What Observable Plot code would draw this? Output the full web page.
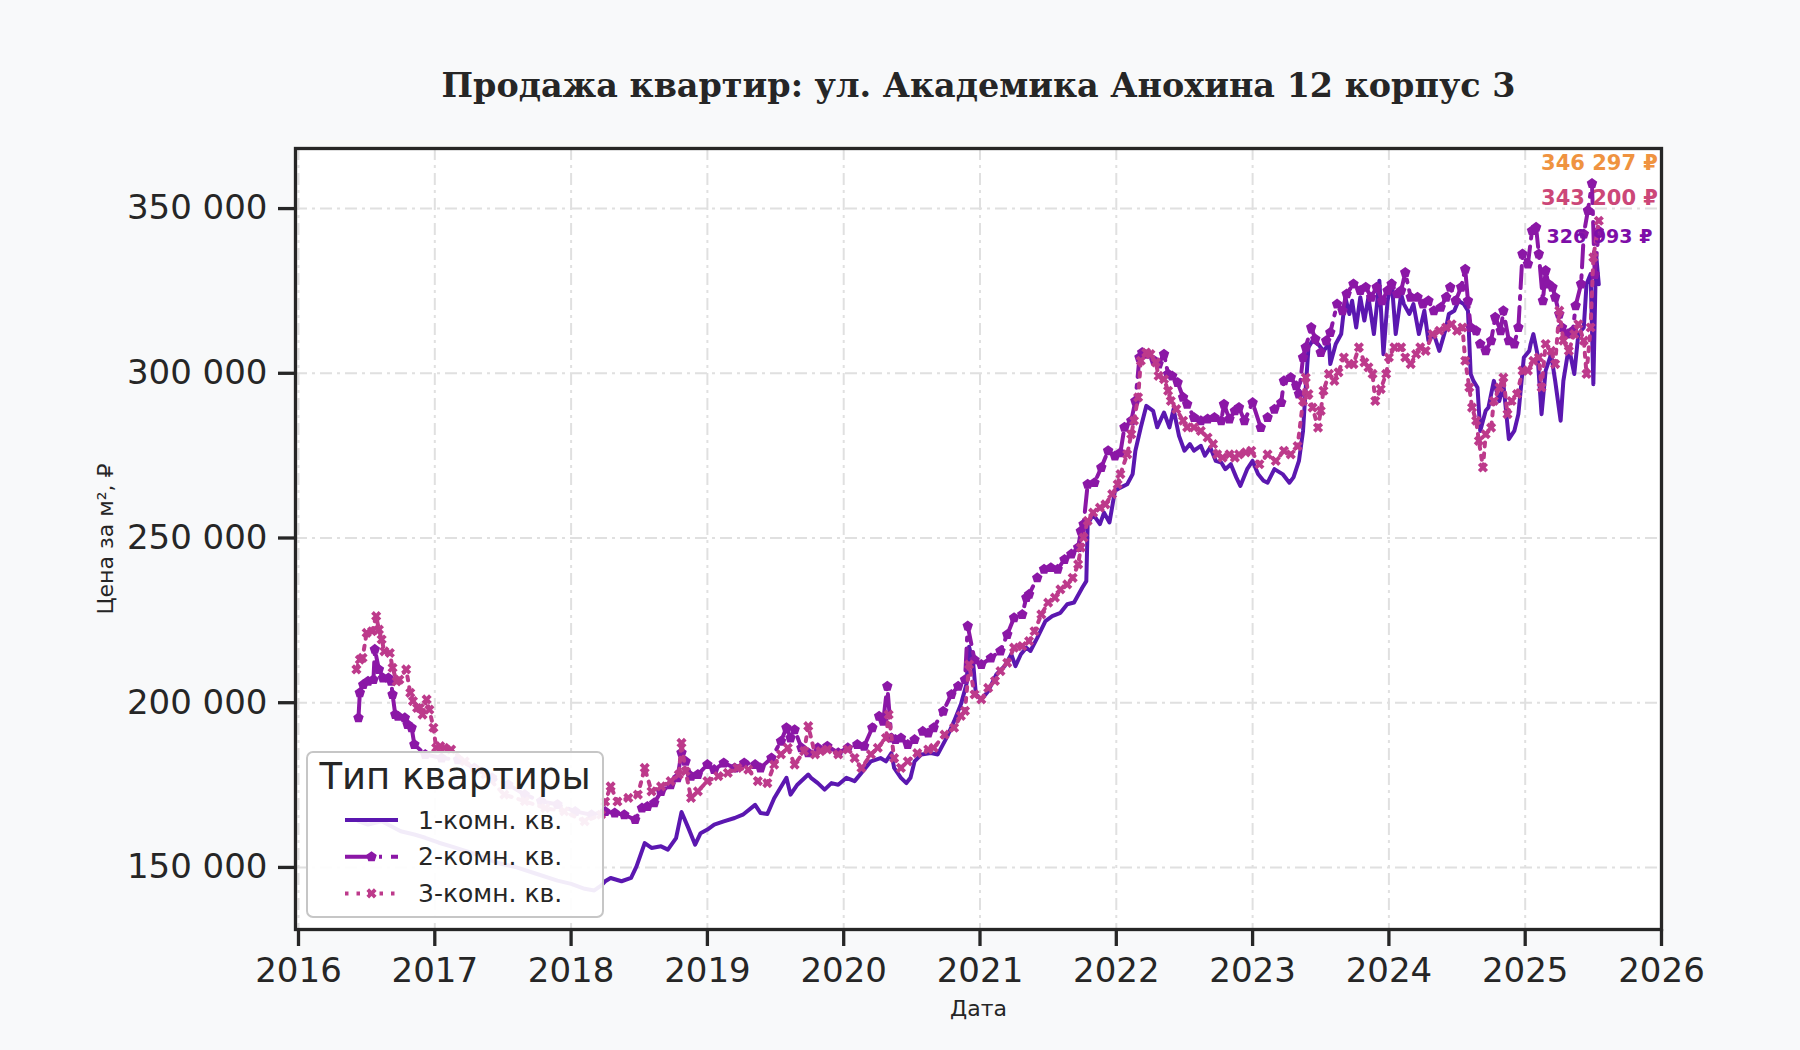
<!DOCTYPE html>
<html>
<head>
<meta charset="utf-8">
<script src="https://cdn.jsdelivr.net/npm/d3@7"></script>
<script src="https://cdn.jsdelivr.net/npm/@observablehq/plot@0.6"></script>
<style>
html, body { margin: 0; padding: 0; background: #f8f9fa; }
#chart { width: 1800px; height: 1050px; }
</style>
</head>
<body>
<div id="chart"></div>
<script>
// ---------- DATA (dates as decimal years, prices in thousand ₽ per m²) ----------
const title = "Продажа квартир: ул. Академика Анохина 12 корпус 3";
const seriesNames = ["1-комн. кв.", "2-комн. кв.", "3-комн. кв."];
const xTicks = [2016, 2017, 2018, 2019, 2020, 2021, 2022, 2023, 2024, 2025, 2026];
const yTicks = [150000, 200000, 250000, 300000, 350000];

const t1 = [2016.44,2016.51,2016.61,2016.68,2016.75,2016.85,2016.93,2017.03,2017.15,2017.3,2017.45,2017.6,2017.75,2017.9,2018.0,2018.1,2018.17,2018.22,
2018.25,2018.29,2018.37,2018.44,2018.48,2018.54,2018.59,2018.66,2018.71,2018.77,2018.81,2018.86,2018.91,2018.95,2019.0,2019.05,2019.12,2019.2,2019.26,2019.35,2019.39,2019.44,2019.49,2019.58,2019.61,2019.66,2019.74,2019.76,2019.81,2019.86,2019.91,2019.96,2020.02,2020.08,2020.13,2020.2,2020.27,2020.31,2020.35,2020.37,2020.42,
2020.46,2020.49,2020.52,2020.57,2020.64,2020.69,2020.76,2020.81,2020.86,2020.9,2020.92,2020.95,2020.97,2021.01,2021.06,2021.12,2021.18,2021.23,2021.26,2021.3,2021.34,2021.37,2021.42,2021.48,2021.53,2021.59,2021.64,2021.69,2021.75,2021.78,2021.79,2021.83,2021.88,2021.91,2021.95,2021.99,2022.03,2022.08,2022.12,2022.14,2022.18,2022.22,2022.27,2022.3,2022.35,2022.39,2022.42,2022.46,2022.5,2022.54,2022.57,2022.62,2022.65,2022.69,2022.73,2022.77,2022.8,2022.84,2022.88,2022.91,
2022.96,2023.0,2023.04,2023.08,2023.11,2023.16,2023.22,2023.27,2023.3,2023.34,2023.37,2023.39,2023.41,2023.44,2023.48,2023.52,2023.56,2023.57,2023.61,2023.65,2023.68,2023.71,2023.73,2023.76,2023.79,2023.82,2023.85,2023.89,2023.93,2023.96,2023.99,2024.02,2024.05,2024.09,2024.11,2024.15,2024.18,2024.22,2024.26,2024.29,2024.33,2024.37,2024.42,2024.44,2024.48,2024.51,2024.55,2024.58,2024.6,2024.62,2024.65,2024.67,2024.71,2024.73,2024.77,2024.81,2024.84,2024.88,2024.92,2024.95,2024.99,2025.03,2025.04,2025.06,2025.09,2025.12,2025.15,2025.19,2025.22,2025.26,2025.28,2025.32,2025.36,2025.39,2025.43,2025.45,2025.48,2025.5,2025.52,2025.54];
const k1 = [164,163,164,162.5,161,160,159,157.5,156,154,151.5,150,148,146,145,143.5,143,144.5,
145.8,146.8,145.8,146.8,150.3,157.4,155.9,156.4,155.4,158.9,166.8,162,156.9,160.4,161.5,163,164,165,166,169,166.5,166.2,171,177.2,172.1,175.1,178.2,177.2,175.6,173.6,175.6,175.1,177.2,176.2,178.7,182.2,183.2,182.2,184.7,180.2,177.2,
175.6,177.2,182.2,184.3,184.7,184.3,189.8,194.4,199.5,205.5,217,212,202.5,201,203.5,208.6,211.1,214.7,211.1,214.7,216.7,215.7,219.7,224.8,226.3,227.3,229.9,230.4,234.9,236.9,254.2,257.2,254.2,257.7,254.7,264.3,265.3,266.3,269.4,276.5,283.6,290.1,288.6,283.6,288.1,283.6,289.1,281,276.5,278.5,276.5,278,275,277.5,273.4,272.9,270.9,272.4,268.4,265.8,
270.9,273.4,269.4,267.4,266.8,270.9,269.4,266.8,268.4,273.4,282.5,295.7,307.9,309.9,308.9,306.8,308.9,302.8,308.9,311.9,323.1,318,322,313.9,323.1,316,323.1,311.9,328.1,305.8,322,328.1,311.9,324.1,321,318,321,311.9,319,309.9,311.9,306.8,313.9,318,319,322,321,319,299.8,297.7,295.7,282.5,288.6,289.6,297.7,291.6,296.7,280,282.5,287.6,304.8,306.8,308.9,311.9,305.8,287.6,300.8,305.8,297.7,285.6,297.7,307.9,299.8,311.9,313.9,327.1,330.1,296.7,336.2,326.993];

const t2 = [2016.44,2016.45,2016.475,2016.51,2016.55,2016.56,2016.59,2016.62,2016.66,2016.68,2016.69,2016.71,2016.73,2016.78,2016.8,2016.83,2016.85,2016.93,2017.05,2017.17,2017.29,2017.42,2017.54,2017.66,2017.78,2017.9,2018.03,2018.15,
2018.25,2018.32,2018.39,2018.47,2018.52,2018.56,2018.61,2018.66,2018.73,2018.78,2018.81,2018.84,2018.88,2018.93,2019.0,2019.05,2019.12,2019.2,2019.27,2019.35,2019.39,2019.47,2019.54,2019.58,2019.61,2019.64,2019.69,2019.74,2019.81,2019.88,2019.96,2020.03,2020.1,2020.15,2020.21,2020.26,2020.29,2020.32,2020.35,2020.38,2020.42,2020.47,2020.52,2020.58,2020.62,2020.66,2020.73,2020.79,2020.84,2020.89,2020.91,2020.96,2021.01,
2021.08,2021.15,2021.2,2021.25,2021.31,2021.34,2021.36,2021.42,2021.47,2021.52,2021.57,2021.62,2021.67,2021.72,2021.74,2021.76,2021.79,2021.84,2021.89,2021.94,2021.99,2022.03,2022.06,2022.11,2022.14,2022.17,2022.19,2022.23,2022.28,2022.31,2022.35,2022.38,2022.41,2022.45,2022.49,2022.52,2022.57,2022.62,2022.67,2022.72,2022.77,2022.79,2022.83,2022.87,2022.9,2022.94,
2023.0,2023.06,2023.11,2023.16,2023.21,2023.23,2023.28,2023.32,2023.34,2023.37,2023.39,2023.43,2023.46,2023.5,2023.54,2023.57,2023.62,2023.66,2023.69,2023.74,2023.79,2023.83,2023.87,2023.91,2023.95,2023.99,2024.02,2024.06,2024.09,2024.12,2024.16,2024.21,2024.25,2024.29,2024.33,2024.38,2024.42,2024.45,2024.49,2024.53,2024.56,2024.58,2024.6,2024.64,2024.67,2024.71,2024.75,2024.78,2024.82,2024.84,2024.88,2024.92,2024.95,2024.98,2025.02,2025.05,2025.08,2025.1,2025.13,2025.15,2025.17,2025.2,2025.22,2025.25,2025.27,2025.31,2025.35,2025.37,2025.41,2025.43,2025.46,2025.49,2025.51,2025.54];
const k2 = [195.4,203,205.5,206.5,207,216.2,210.1,207.5,207.5,206.5,202.5,196.4,195.9,195.4,193.4,192.4,187.3,184.3,183.2,182.7,180.2,177.2,175.1,172.1,170.1,169.1,167,166,
167,166.5,166,164.5,168,168.5,169.6,173,175.1,177.2,184.8,182.2,177.7,178.2,181.2,179.7,181.7,180.2,181.7,181.2,180.2,183.2,188.3,192.4,189.3,191.8,186.3,184.8,186.3,186.8,184.8,186.3,187.3,186.8,192.4,195.9,194.4,205,189.3,188.8,189.3,187.3,188.8,191.3,190.8,192.4,197.4,202.5,205,207,223.3,213,211.6,
213.6,215.7,220.7,225.8,226.8,231.9,232.9,237.9,240.5,241,240.5,243.5,245.1,247.1,252.1,254.2,266.3,266.8,271.4,276.5,274.9,275.9,283.6,285.6,291.6,304.8,306.3,305.8,303.8,302.8,305.8,299.8,299.2,297.2,292.7,290.6,286.6,285.6,286.1,286.6,285.6,290.6,286.1,288.6,289.6,285.6,
291.1,283.5,286.6,289.1,291.1,297.7,298.7,296.2,293.7,304.8,307.9,313.9,310.4,306.3,309.9,312.4,321,319,324.1,327.1,325.1,326.1,323.1,326.1,322,325.1,327.1,324.1,325.1,330.6,323.1,323.1,321,322,319,320,323.1,326.1,322,326.1,331.6,322,313.9,312.9,308.9,306.8,309.9,317,312.9,319,309.9,308.9,313.9,336.2,333.2,343.3,344.3,336.2,322,331.2,327.1,326.1,323.1,318,313.9,311.9,312.9,320.5,327.1,342.3,349.4,357.6,330,343.2];

const t3 = [2016.425,2016.45,2016.47,2016.5,2016.54,2016.57,2016.59,2016.61,2016.63,2016.67,2016.69,2016.72,2016.74,2016.79,2016.82,2016.84,2016.87,2016.89,2016.91,2016.94,2016.96,2016.99,2017.01,2017.04,2017.07,2017.12,2017.22,2017.37,2017.51,2017.66,2017.81,2017.95,2018.1,2018.22,
2018.25,2018.29,2018.34,2018.42,2018.49,2018.54,2018.59,2018.66,2018.73,2018.79,2018.81,2018.84,2018.88,2018.93,2019.0,2019.08,2019.15,2019.22,2019.3,2019.37,2019.44,2019.49,2019.54,2019.59,2019.64,2019.71,2019.74,2019.79,2019.83,2019.88,2019.96,2020.03,2020.08,2020.13,2020.2,2020.25,2020.31,2020.33,2020.37,2020.42,2020.47,2020.54,2020.62,2020.66,2020.74,2020.81,2020.86,2020.89,2020.92,2020.96,
2021.01,2021.06,2021.11,2021.15,2021.2,2021.25,2021.31,2021.36,2021.4,2021.45,2021.5,2021.55,2021.59,2021.64,2021.68,2021.72,2021.74,2021.76,2021.79,2021.83,2021.88,2021.92,2021.97,2022.01,2022.03,2022.08,2022.11,2022.13,2022.16,2022.18,2022.22,2022.25,2022.29,2022.31,2022.35,2022.38,2022.4,2022.44,2022.49,2022.52,2022.57,2022.62,2022.67,2022.71,2022.74,2022.78,2022.83,2022.87,2022.9,
2022.95,2022.99,2023.05,2023.11,2023.17,2023.23,2023.28,2023.33,2023.37,2023.39,2023.41,2023.44,2023.48,2023.5,2023.52,2023.56,2023.6,2023.63,2023.67,2023.71,2023.74,2023.78,2023.82,2023.85,2023.88,2023.9,2023.94,2023.98,2024.0,2024.04,2024.09,2024.12,2024.16,2024.2,2024.23,2024.27,2024.32,2024.37,2024.42,2024.46,2024.5,2024.54,2024.56,2024.59,2024.61,2024.64,2024.66,2024.69,2024.71,2024.75,2024.77,2024.81,2024.84,2024.87,2024.9,2024.94,2024.98,2025.02,2025.06,2025.1,2025.12,2025.15,2025.19,2025.22,2025.25,2025.28,2025.32,2025.36,2025.39,2025.43,2025.45,2025.48,2025.5,2025.54];
const k3 = [210.1,213.1,213.6,221.2,221.7,226.3,222.2,219.2,215.6,215.1,210.6,206.5,207,210.1,203,200.5,198.4,198.4,196.4,201,197.9,192.4,186.3,186.8,186.3,185.8,182.2,178.2,172.1,170.1,168,167,164,166,
170,174.6,170,171.1,172.1,180.2,173.1,174.6,176.2,178.2,187.8,179.2,171.1,173.1,176.2,177.7,178.7,180.2,179.7,176.2,175.6,181.2,184.3,186.3,181.2,185.3,192.9,184.3,185.3,185.8,184.3,185.8,183.2,180.2,184.3,186.3,189.3,196.4,183.2,180.2,182.2,184.7,185.8,186.3,190.3,192.4,196,197.5,211.6,202.5,
201,204.5,206.6,209.6,212.1,216.7,217.2,218.7,221.7,226.8,230.4,231.9,234.4,235.9,237.9,242,247.1,250.1,255.2,257.7,259.2,260.2,263.3,266.3,269.4,275.4,281.5,285.6,292.7,303.8,306.3,305.8,303.3,299.2,298.2,294.7,291.6,289.1,285.6,283.6,283.6,282.5,280.5,278.5,275.4,274.4,275.4,274.4,275.4,
276,276.5,272.4,275.4,273.4,276.5,275.4,277.9,291.6,298.7,293.7,289.6,283.5,288.6,294.7,299.8,297.7,300.3,304.8,302.8,302.8,307.9,303.3,301.8,299.8,291.6,295.2,299.8,304.8,307.9,307.9,304.8,302.8,305.8,307.9,306.8,311.9,312.9,313.9,314.9,312.9,313.9,303.8,295.7,289.6,285.6,279.5,271.4,281.5,283.5,291.6,295.7,298.7,287.6,291.6,293.7,300.8,300.8,303.8,304.8,295.7,308.9,306.8,302.8,319,309.9,306.8,311.9,314.9,309.9,299.8,313.9,335.2,346.297];

// ---------- STYLE ----------
const lineColors = ["#5b17b0", "#8b17a6", "#bd3a8b"];
const labelColors = ["#7e0ea8", "#cc4778", "#ef9340"];
const ink = "#262626";

const rows = (t, k, name) => t.map((x, i) => ({date: x, price: Math.round(k[i] * 1000), type: name}));
const d1 = rows(t1, k1, seriesNames[0]);
const d2 = rows(t2, k2, seriesNames[1]);
const d3s = rows(t3, k3, seriesNames[2]);
const lastVals = [d1, d2, d3s].map(d => d[d.length - 1].price);

const fmtNum = v => d3.format(",")(v).replace(/,/g, " ");

// custom marker shapes
const pentagon = {
  draw(ctx, size) {
    const r = Math.sqrt(size / Math.PI) * 1.15;
    for (let k = 0; k < 5; k++) {
      const a = -Math.PI / 2 + k * 2 * Math.PI / 5;
      const x = r * Math.cos(a), y = r * Math.sin(a);
      if (k === 0) ctx.moveTo(x, y); else ctx.lineTo(x, y);
    }
    ctx.closePath();
  }
};
const filledX = {
  draw(ctx, size) {
    const r = Math.sqrt(size / Math.PI) * 1.1, w = r * 0.36;
    const pts = [[-w,-r],[w,-r],[w,-w],[r,-w],[r,w],[w,w],[w,r],[-w,r],[-w,w],[-r,w],[-r,-w],[-w,-w]];
    pts.forEach(([x, y], i) => {
      const X = (x - y) / Math.SQRT2, Y = (x + y) / Math.SQRT2;
      if (i === 0) ctx.moveTo(X, Y); else ctx.lineTo(X, Y);
    });
    ctx.closePath();
  }
};

const annot = [0, 1, 2].map(i => ({text: `${fmtNum(lastVals[i])} ₽`, color: labelColors[i]}));
// stacked in the top right corner: highest value first
const annotOrder = [2, 1, 0];
const annotDy = [7, 42, 81];
const annotSize = [21, 21, 19];

const chart = Plot.plot({
  width: 1800,
  height: 1050,
  marginTop: 148,
  marginRight: 139,
  marginBottom: 121,
  marginLeft: 295,
  style: {background: "transparent", fontFamily: "DejaVu Sans", color: ink, overflow: "visible"},
  x: {type: "linear", domain: [2015.978, 2026]},
  y: {domain: [131156, 368237]},
  marks: [
    Plot.frame({fill: "white", stroke: null}),
    Plot.gridX(xTicks, {stroke: "#e0e0e0", strokeOpacity: 1, strokeWidth: 2, strokeDasharray: "12,5,3,5"}),
    Plot.gridY(yTicks, {stroke: "#e0e0e0", strokeOpacity: 1, strokeWidth: 2, strokeDasharray: "12,5,3,5"}),
    Plot.line(d1, {x: "date", y: "price", stroke: lineColors[0], strokeWidth: 4}),
    Plot.line(d2, {x: "date", y: "price", stroke: lineColors[1], strokeWidth: 4, strokeDasharray: "22,8,3,8"}),
    Plot.dot(d2, {x: "date", y: "price", symbol: pentagon, r: 4.8, fill: lineColors[1], stroke: null}),
    Plot.line(d3s, {x: "date", y: "price", stroke: lineColors[2], strokeWidth: 4, strokeDasharray: "4,7"}),
    Plot.dot(d3s, {x: "date", y: "price", symbol: filledX, r: 4.8, fill: lineColors[2], stroke: null}),
    Plot.axisX({ticks: xTicks, tickFormat: "d", tickSize: 17, tickPadding: 11, fontSize: 34, strokeWidth: 3.3, label: null}),
    Plot.axisY({ticks: yTicks, tickFormat: fmtNum, tickSize: 17, tickPadding: 11, fontSize: 34, strokeWidth: 3.3, label: null}),
    Plot.frame({stroke: ink, strokeWidth: 3.3}),
    Plot.text([title], {frameAnchor: "top", dy: -75, fontFamily: "DejaVu Serif", fontWeight: "bold", fontSize: 33.4, fill: ink}),
    Plot.text(["Цена за м², ₽"], {frameAnchor: "left", dx: -190, rotate: -90, textAnchor: "middle", fontSize: 22, fill: ink}),
    Plot.text(["Дата"], {frameAnchor: "bottom", dy: 86, fontSize: 22, fill: ink}),
    ...annotOrder.map((s, j) => Plot.text([annot[s]], {
      text: "text", frameAnchor: "top-right", dx: -62, dy: annotDy[j], textAnchor: "middle",
      fontWeight: "bold", fontSize: annotSize[j], fill: annot[s].color
    }))
  ]
});

document.getElementById("chart").appendChild(chart);

// ---------- LEGEND ----------
const svg = d3.select(chart);
const lg = svg.append("g").attr("font-family", "DejaVu Sans");
lg.append("rect").attr("x", 307).attr("y", 752).attr("width", 296).attr("height", 165).attr("rx", 6)
  .attr("fill", "white").attr("fill-opacity", 0.92).attr("stroke", "#c6c6c6").attr("stroke-width", 2);
lg.append("text").attr("x", 455).attr("y", 789).attr("text-anchor", "middle").attr("font-size", 37)
  .attr("fill", ink).text("Тип квартиры");
const dashes = [null, "25,9,3,9", "3.5,8"];
const syms = [null, pentagon, filledX];
seriesNames.forEach((name, i) => {
  const cy = 820 + i * 36.7;
  lg.append("line").attr("x1", 345).attr("x2", 398).attr("y1", cy).attr("y2", cy)
    .attr("stroke", lineColors[i]).attr("stroke-width", 4)
    .attr("stroke-dasharray", dashes[i]);
  if (syms[i]) {
    lg.append("path").attr("transform", `translate(371.5,${cy})`)
      .attr("d", d3.symbol(syms[i], 4.8 * 4.8 * Math.PI)()).attr("fill", lineColors[i]);
  }
  lg.append("text").attr("x", 418).attr("y", cy + 8.5).attr("text-anchor", "start")
    .attr("font-size", 25).attr("fill", ink).text(name);
});
</script>
</body>
</html>
